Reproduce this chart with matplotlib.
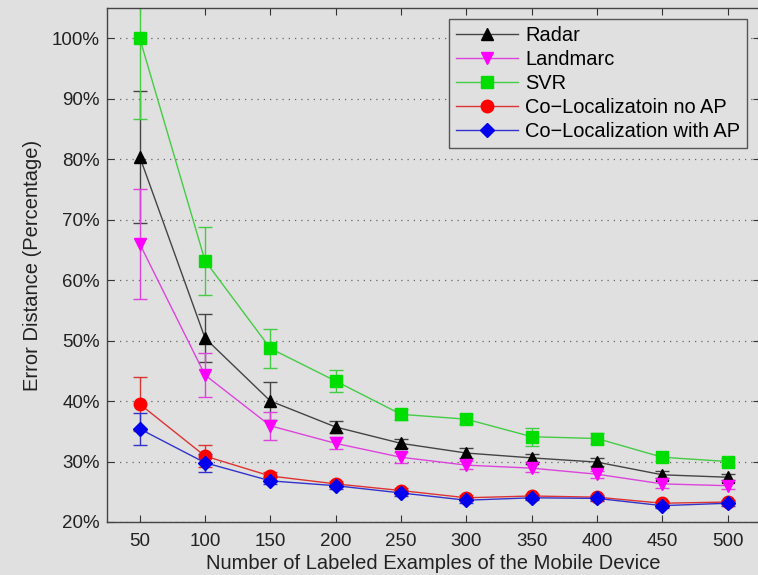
import matplotlib
matplotlib.use("Agg")
import matplotlib.pyplot as plt
import numpy as np

plt.rcParams['font.family'] = ['Liberation Sans', 'DejaVu Sans']

x = [50, 100, 150, 200, 250, 300, 350, 400, 450, 500]

radar = [80.4, 50.4, 40.0, 35.7, 33.0, 31.4, 30.6, 29.9, 27.8, 27.4]
radar_err = [10.9, 4.0, 3.2, 1.0, 0.8, 0.8, 0.7, 0.7, 0.6, 0.5]

landmarc = [66.0, 44.3, 35.9, 33.0, 30.7, 29.4, 28.9, 27.9, 26.3, 26.0]
landmarc_err = [9.1, 3.6, 2.3, 1.0, 0.9, 0.7, 0.7, 0.6, 0.6, 0.6]

svr = [100.0, 63.2, 48.7, 43.3, 37.8, 37.0, 34.1, 33.8, 30.7, 30.0]
svr_err = [13.3, 5.6, 3.2, 1.8, 0.9, 0.8, 1.5, 0.9, 0.6, 0.5]

coloc_noap = [39.5, 30.9, 27.6, 26.3, 25.2, 24.0, 24.3, 24.1, 23.1, 23.3]
coloc_noap_err = [4.5, 1.8, 0.6, 0.5, 0.5, 0.4, 0.4, 0.4, 0.4, 0.4]

coloc_ap = [35.4, 29.8, 26.8, 26.0, 24.8, 23.6, 24.0, 23.9, 22.7, 23.1]
coloc_ap_err = [2.7, 1.5, 0.6, 0.5, 0.5, 0.4, 0.4, 0.4, 0.4, 0.4]

series = [
    ("Radar", radar, radar_err, '^', '#000000', '#444444'),
    ("Landmarc", landmarc, landmarc_err, 'v', '#ff00ff', '#dd44dd'),
    ("SVR", svr, svr_err, 's', '#00dd00', '#44cc44'),
    ("Co\u2212Localizatoin no AP", coloc_noap, coloc_noap_err, 'o', '#ff0000', '#dd3333'),
    ("Co\u2212Localization with AP", coloc_ap, coloc_ap_err, 'D', '#0000ee', '#3333cc'),
]

bg = '#e0e0e0'
fig = plt.figure(figsize=(7.58, 5.75), dpi=100, facecolor=bg)
ax = fig.add_axes([0.1412, 0.0922, 0.862, 0.894], facecolor=bg)

msizes = {'^': 9, 'v': 9, 's': 8, 'o': 9, 'D': 7}
for name, vals, err, mk, mcol, lcol in series:
    ax.errorbar(x, vals, yerr=err, fmt='none', ecolor=lcol, elinewidth=1.0,
                capsize=5, capthick=1.0, zorder=2)
    ax.plot(x, vals, color=lcol, lw=1.0, marker=mk, markersize=msizes[mk],
            markerfacecolor=mcol, markeredgecolor=mcol, label=name, zorder=3)

ax.set_xlim(25, 525)
ax.set_ylim(20, 105)
ax.set_xticks(x)
ax.set_yticks([20, 30, 40, 50, 60, 70, 80, 90, 100])
ax.set_yticklabels([f"{v}%" for v in [20, 30, 40, 50, 60, 70, 80, 90, 100]])
ax.tick_params(direction='in', length=5, labelsize=13.5, top=True, right=True,
               colors='#333333', labelcolor='#222222')
ax.tick_params(axis='x', pad=8)
ax.tick_params(axis='y', pad=5)
ax.yaxis.grid(True, linestyle=(0, (1, 4)), color='#666666', linewidth=0.9)
ax.set_axisbelow(True)
for s in ax.spines.values():
    s.set_color('#444444')
    s.set_linewidth(1.0)

ax.set_xlabel("Number of Labeled Examples of the Mobile Device", fontsize=14.5,
              color='#222222', labelpad=3)
ax.set_ylabel("Error Distance (Percentage)", fontsize=14.5, color='#222222', labelpad=7)

leg = ax.legend(loc='upper right', bbox_to_anchor=(0.98, 0.979), borderaxespad=0,
                fontsize=14.4, frameon=True, fancybox=False, edgecolor='#555555',
                facecolor=bg, framealpha=1, handlelength=3.1, borderpad=0.35,
                labelspacing=0.25, handletextpad=0.35)
leg.get_frame().set_linewidth(1.0)

fig.savefig("out.png", dpi=100, facecolor=bg)
